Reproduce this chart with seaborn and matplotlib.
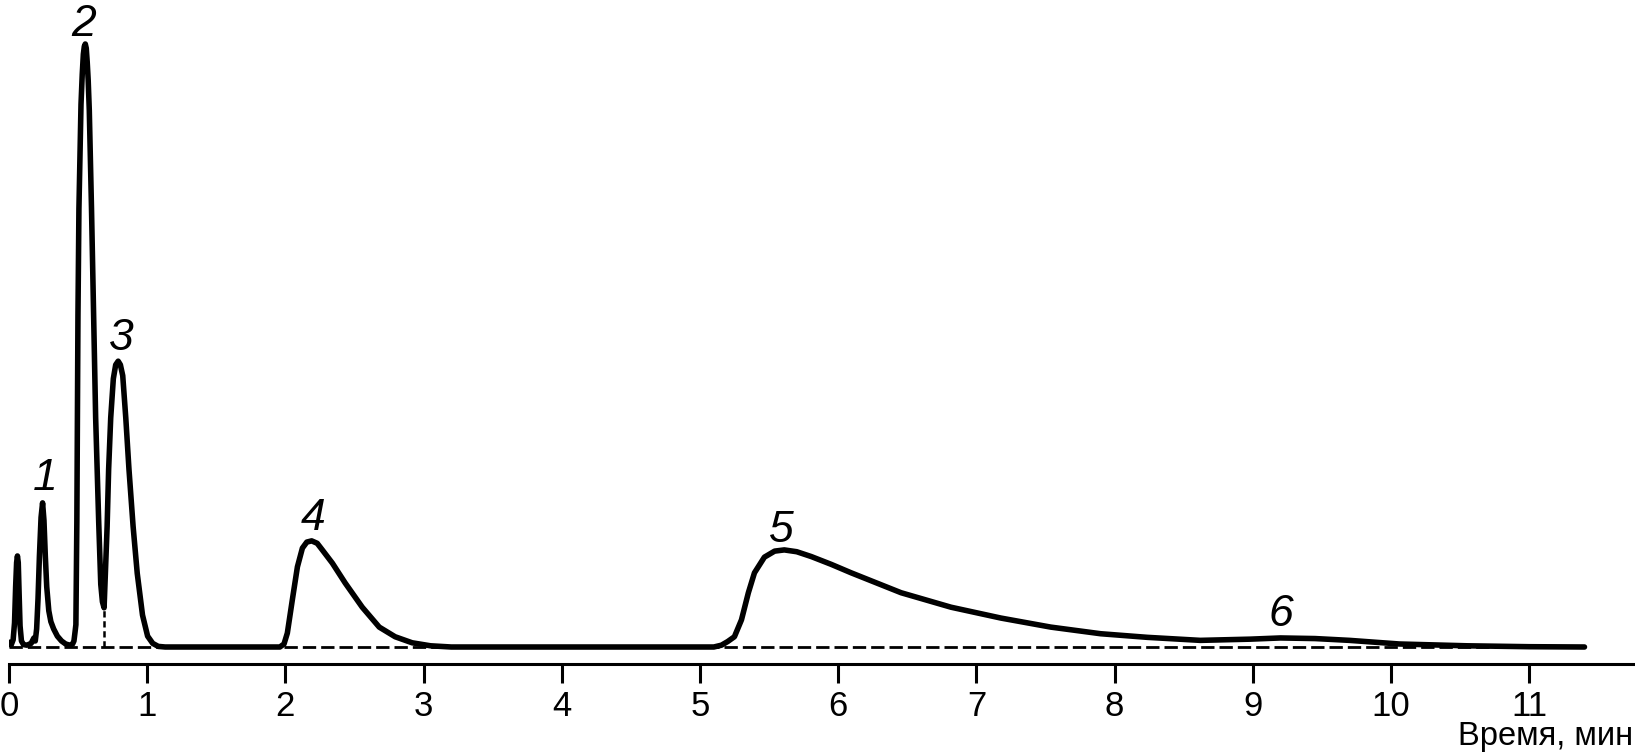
import matplotlib
matplotlib.use("Agg")
import matplotlib.pyplot as plt
import seaborn as sns
import pandas as pd

# ---- data (time in min, signal in relative units, peak 2 = 100)
time = [0.000, 0.015, 0.030, 0.040, 0.048, 0.055, 0.061, 0.067, 0.073, 0.080, 0.090,
        0.105, 0.130, 0.160, 0.180, 0.190, 0.200, 0.210, 0.220, 0.232, 0.243, 0.253,
        0.263, 0.273, 0.288, 0.303, 0.323, 0.350, 0.380, 0.410, 0.440, 0.460, 0.470,
        0.478, 0.484, 0.491, 0.495, 0.499, 0.506, 0.521, 0.530, 0.538, 0.545, 0.552,
        0.559, 0.566, 0.573, 0.581,
        0.597, 0.612, 0.627, 0.649, 0.664, 0.676, 0.688, 0.697, 0.710, 0.721, 0.736,
        0.755, 0.772, 0.790, 0.806, 0.823, 0.845, 0.868, 0.898, 0.928, 0.966, 1.003,
        1.040, 1.080, 1.130, 1.960, 1.990, 2.014, 2.050, 2.087, 2.123, 2.155,
        2.190, 2.230, 2.267, 2.340, 2.433, 2.556, 2.679, 2.794, 2.917, 3.050, 3.200,
        5.100, 5.155, 5.200, 5.249, 5.300, 5.350, 5.394, 5.466, 5.540, 5.610, 5.700,
        5.805, 5.950, 6.094, 6.455, 6.816, 7.177, 7.538, 7.899, 8.238, 8.620, 8.980,
        9.200, 9.450, 9.700, 10.060, 10.550, 11.000, 11.400]
signal = [0.8, 0.3, 1.2, 4.0, 10.0, 14.0, 15.1, 14.0, 9.0, 3.5, 1.0,
          0.4, 0.3, 0.6, 1.5, 1.0, 3.0, 8.0, 15.0, 21.5, 23.9, 21.0,
          15.0, 10.0, 6.0, 4.2, 3.0, 1.8, 1.0, 0.5, 0.3, 0.5, 1.0,
          2.5, 3.7, 20.8, 38.0, 55.0, 72.7, 90.0, 95.0, 98.3, 99.6, 100.0,
          99.3, 97.0, 94.0, 89.0,
          72.7, 55.4, 38.0, 20.8, 10.4, 7.5, 6.5, 12.0, 20.0, 29.5, 38.0,
          44.5, 46.8, 47.4, 46.8, 45.0, 38.0, 29.5, 20.0, 12.2, 5.3, 1.8,
          0.6, 0.1, 0.0, 0.0, 0.5, 2.3, 7.8, 13.3, 16.4, 17.4,
          17.6, 17.2, 16.1, 13.9, 10.6, 6.6, 3.3, 1.7, 0.7, 0.2, 0.0,
          0.0, 0.3, 0.9, 1.7, 4.5, 9.0, 12.3, 14.9, 15.9, 16.1, 15.8,
          15.0, 13.7, 12.3, 9.0, 6.6, 4.8, 3.3, 2.2, 1.6, 1.1, 1.3,
          1.5, 1.4, 1.1, 0.5, 0.2, 0.05, 0.0]

baseline_time = [0.0, 11.40]
baseline_signal = [0.0, 0.0]
valley_time = [0.688, 0.688]
valley_signal = [0.0, 6.5]

peak_names = ["1", "2", "3", "4", "5", "6"]
peak_label_time = [0.26, 0.54, 0.81, 2.20, 5.59, 9.20]
peak_label_signal = [26.0, 101.3, 49.3, 19.4, 17.4, 3.5]

tick_values = list(range(0, 12))
tick_labels = [str(v) for v in tick_values]
x_label = "Время, мин"

# ---- style
sns.set_style("white")
plt.rcParams["font.family"] = ["Liberation Sans", "DejaVu Sans"]

W, H = 1635, 752
x0 = 9.0
fig = plt.figure(figsize=(W / 100, H / 100), dpi=100)
ax = fig.add_axes([x0 / W, 88 / H, (W - x0) / W, 664 / H])

px_per_min = 138.2
px_per_unit = 6.03

df = pd.DataFrame({"time": time, "signal": signal})
sns.lineplot(data=df, x="time", y="signal", ax=ax, color="black", lw=4.0,
             estimator=None, sort=False, zorder=3)
line_main = ax.lines[-1]
line_main.set_solid_joinstyle("round")
line_main.set_solid_capstyle("round")

sns.lineplot(x=baseline_time, y=baseline_signal, ax=ax, color="black", lw=2.0, zorder=2)
ax.lines[-1].set_dashes((4.8, 1.8))
ax.plot(valley_time, valley_signal, color="black", lw=1.8, dashes=(2.5, 1.5), zorder=2)

for name, tx, ty in zip(peak_names, peak_label_time, peak_label_signal):
    ax.text(tx, ty, name, fontsize=32, fontstyle="italic", ha="center", va="baseline",
            color="black", clip_on=False)

ax.set_xlim(0, (W - x0) / px_per_min)
ax.set_ylim(-17 / px_per_unit, 647 / px_per_unit)

ax.set_xticks(tick_values)
ax.set_xticklabels(tick_labels, fontsize=25)
ax.set_yticks([])
ax.set_xlabel("")
ax.set_ylabel("")
ax.tick_params(axis="x", direction="out", length=13.7, width=2.2, pad=5,
               colors="black", bottom=True)
for s in ["left", "top", "right"]:
    ax.spines[s].set_visible(False)
ax.spines["bottom"].set_linewidth(2.2)
ax.spines["bottom"].set_color("black")
ax.patch.set_alpha(0)

fig.text(1633 / W, (H - 745) / H, x_label, fontsize=23.5, ha="right", va="baseline",
         color="black")

fig.savefig("out.png", dpi=100, facecolor="white")
